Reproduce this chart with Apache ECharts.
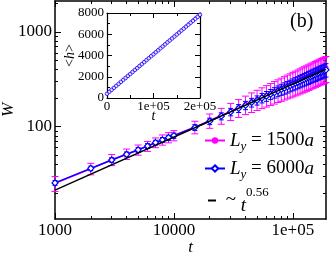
<!DOCTYPE html>
<html><head><meta charset="utf-8">
<script src="https://cdn.jsdelivr.net/npm/echarts@6/dist/echarts.min.js"></script>
<style>html,body{margin:0;padding:0;background:#fff}#c{width:332px;height:253px}</style>
</head><body><div id="c"></div>
<script>
// ---- main plot data: W(t) ----
const tMain = [1000,2000,3000,4000,5000,6000,7000,8000,9000,10000,15000,20000,25000,30000,35000,40000,45000,50000,55000,60000,65000,70000,75000,80000,85000,90000,95000,100000,105000,110000,115000,120000,125000,130000,135000,140000,145000,150000,155000,160000,165000,170000,175000,180000,185000,190000];
const w1500 = [25.2,36,44.8,51.5,57,62.3,68,72.8,77,80.8,99,116,131,146,159,172,184,195,206,216,226,236,246,255,264,273,281,290,298,306,314,322,330,337,345,352,360,367,374,381,388,395,401,408,414,421];
const e1500 = [4.5,5,6,6.5,7,7.5,8,9,9.5,10,15,20,25,30,34,38,43,47,51,55,59,63,66,70,73,77,80,84,87,90,93,96,99,101,104,107,109,112,114,116,118,121,123,125,127,129];
const w6000 = [25.5,36.3,44.5,51,56.8,62.5,67.8,72.4,76.5,80.5,98,114,129,143,156,168,180,190,201,210,220,229,238,247,255,263,271,279,287,294,302,309,316,323,330,337,344,350,356,363,369,375,381,387,393,398];
const e6000 = [1.5,2,2.5,3,3.3,3.7,4,4.4,4.8,5.2,7,9,11,13,15,17,19,21,23,25,27,29,31,33,35,37,38,40,42,43,45,46,48,49,51,52,53,55,56,57,58,60,61,62,63,64];
const fitT = [1000,190000];
const fitW = [21.4,404];
// ---- inset data: <h>(t) ----
const tInset = [0,5000,10000,15000,20000,25000,30000,35000,40000,45000,50000,55000,60000,65000,70000,75000,80000,85000,90000,95000,100000,105000,110000,115000,120000,125000,130000,135000,140000,145000,150000,155000,160000,165000,170000,175000,180000,185000,190000,195000,200000];
const h6000 = [400,590,770,960,1150,1330,1520,1710,1890,2080,2260,2450,2640,2820,3010,3190,3380,3570,3750,3940,4120,4310,4490,4680,4860,5050,5240,5420,5610,5790,5980,6160,6350,6530,6720,6900,7090,7270,7460,7640,7830];
const h1500 = [410,600,790,980,1170,1350,1540,1730,1920,2100,2290,2480,2670,2850,3040,3230,3420,3600,3790,3980,4170,4350,4540,4730,4920,5100,5290,5480,5670,5860,6040,6230,6420,6610,6800,6980,7170,7360,7550,7740,7920];
// ---- ticks ----
const xMajorTicks = [1000,10000,100000];
const xMajorLabels = ['1000','10000','1e+05'];
const xMinorTicks = [2000,3000,4000,5000,6000,7000,8000,9000,20000,30000,40000,50000,60000,70000,80000,90000];
const yMajorTicks = [100,1000];
const yMajorLabels = ['100','1000'];
const yMinorTicks = [20,30,40,50,60,70,80,90,200,300,400,500,600,700,800,900,2000];
const insetXTicks = [0,100000,200000];
const insetXLabels = ['0','1e+05','2e+05'];

const FONT = 'Liberation Serif';
function pick(ticks, labels, v){
  const i = ticks.findIndex(t => Math.abs(t - v) <= Math.abs(t) * 1e-6 + 1e-9);
  return i < 0 ? '' : labels[i];
}
function mainAxis(isX, pos, ticks, len, labels, extra){
  return Object.assign({
    type:'log', logBase:10, gridIndex:0, position:pos, nameMoveOverlap:false,
    min: isX ? 1000 : 10.6, max: isX ? 190000 : 2120,
    axisLine:{show:true, onZero:false, lineStyle:{color:'#000', width:1.5}},
    axisTick:{show:true, inside:true, length:len, customValues:ticks, lineStyle:{color:'#000', width:1}},
    minorTick:{show:false},
    axisLabel: labels ? {show:true, customValues:ticks, margin:3, color:'#000', fontFamily:FONT, fontSize:17,
      formatter: v => pick(ticks, labels, v)} : {show:false},
    splitLine:{show:false}
  }, extra || {});
}
function insetAxis(isX, pos, labels, extra){
  return Object.assign({
    type:'value', gridIndex:1, position:pos, nameMoveOverlap:false,
    min:0, max: isX ? 200000 : 8000, interval: isX ? 100000 : 2000,
    axisLine:{show:true, onZero:false, lineStyle:{color:'#000', width:1.2}},
    axisTick:{show:true, inside:true, length:5, lineStyle:{color:'#000', width:1}},
    minorTick:{show:true, splitNumber:2, length:3, lineStyle:{color:'#000', width:1}},
    axisLabel: labels ? {show:true, margin: isX ? 2 : 3, color:'#000', fontFamily:FONT, fontSize:13,
      formatter: isX ? (v => pick(insetXTicks, insetXLabels, v)) : (v => String(v))} : {show:false},
    splitLine:{show:false}
  }, extra || {});
}
function errSeries(tArr, wArr, eArr, color, cap, z){
  return {
    type:'custom', xAxisIndex:0, yAxisIndex:0, z:z, silent:true,
    data: tArr.map((t,i) => [t, wArr[i]-eArr[i], wArr[i]+eArr[i]]),
    renderItem: (params, api) => {
      const lo = api.coord([api.value(0), api.value(1)]);
      const hi = api.coord([api.value(0), api.value(2)]);
      const st = {stroke:color, lineWidth:1};
      return {type:'group', children:[
        {type:'line', shape:{x1:lo[0], y1:lo[1], x2:hi[0], y2:hi[1]}, style:st},
        {type:'line', shape:{x1:lo[0]-cap, y1:lo[1], x2:lo[0]+cap, y2:lo[1]}, style:st},
        {type:'line', shape:{x1:hi[0]-cap, y1:hi[1], x2:hi[0]+cap, y2:hi[1]}, style:st}
      ]};
    }
  };
}
const pair = (a, b) => a.map((v,i) => [v, b[i]]);

const richLeg = {
  L:{fontFamily:FONT, fontStyle:'italic', fontSize:19, color:'#000'},
  s:{fontFamily:FONT, fontStyle:'italic', fontSize:13, color:'#000', verticalAlign:'bottom', padding:[12,0,0,0]},
  n:{fontFamily:FONT, fontSize:19, color:'#000'},
  a:{fontFamily:FONT, fontStyle:'italic', fontSize:19, color:'#000'},
  t:{fontFamily:FONT, fontStyle:'italic', fontSize:19, color:'#000', verticalAlign:'bottom'},
  sup:{fontFamily:FONT, fontSize:13, color:'#000', verticalAlign:'top', padding:[0,0,16,0]}
};

const chart = echarts.init(document.getElementById('c'), null, {renderer:'canvas'});
chart.setOption({
  animation:false,
  backgroundColor:'#fff',
  grid:[
    {left:55, right:6, top:1, bottom:34, containLabel:false, outerBoundsMode:'none'},
    {left:107, right:132, top:13, bottom:155, containLabel:false, outerBoundsMode:'none'}
  ],
  xAxis:[
    mainAxis(true,'bottom',xMajorTicks,6,xMajorLabels,{name:'t', nameLocation:'middle', nameGap:20,
      nameTextStyle:{fontFamily:FONT, fontStyle:'italic', fontSize:17, color:'#000'}}),
    mainAxis(true,'bottom',xMinorTicks,3,null,{axisLine:{show:false}}),
    mainAxis(true,'top',xMajorTicks,6,null),
    mainAxis(true,'top',xMinorTicks,3,null,{axisLine:{show:false}}),
    insetAxis(true,'bottom',true,{name:'t', nameLocation:'middle', nameGap:11,
      nameTextStyle:{fontFamily:FONT, fontStyle:'italic', fontSize:14, color:'#000'}}),
    insetAxis(true,'top',false)
  ],
  yAxis:[
    mainAxis(false,'left',yMajorTicks,6,yMajorLabels,{name:'W', nameLocation:'middle', nameGap:38, nameRotate:90,
      nameTextStyle:{fontFamily:FONT, fontStyle:'italic', fontSize:17, color:'#000'}}),
    mainAxis(false,'left',yMinorTicks,3,null,{axisLine:{show:false}}),
    mainAxis(false,'right',yMajorTicks,6,null),
    mainAxis(false,'right',yMinorTicks,3,null,{axisLine:{show:false}}),
    insetAxis(false,'left',true,{name:'<{i|h}>', nameLocation:'middle', nameGap:30, nameRotate:90,
      nameTextStyle:{fontFamily:FONT, fontSize:14, color:'#000',
        rich:{i:{fontFamily:FONT, fontStyle:'italic', fontSize:14, color:'#000'}}}}),
    insetAxis(false,'right',false)
  ],
  legend:[
    {data:['L1500'], left:204, top:131, itemWidth:20, itemHeight:8, itemGap:0, padding:0,
      formatter:() => '{L|L}{s|y}{n| = 1500}{a|a}', textStyle:{fontFamily:FONT, fontSize:19, color:'#000', rich:richLeg}},
    {data:['L6000'], left:204, top:159, itemWidth:20, itemHeight:8, itemGap:0, padding:0,
      formatter:() => '{L|L}{s|y}{n| = 6000}{a|a}', textStyle:{fontFamily:FONT, fontSize:19, color:'#000', rich:richLeg}},
    {data:[{name:'fit', icon:'rect'}], left:208, top:186, itemWidth:8, itemHeight:2, itemGap:0, padding:0,
      formatter:() => '{n| ~ }{t|t}{sup|0.56}', textStyle:{fontFamily:FONT, fontSize:19, color:'#000', rich:richLeg}}
  ],
  graphic:[
    {type:'text', left:290, top:12, style:{text:'(b)', fontFamily:FONT, fontSize:20, fill:'#000'}}
  ],
  series:[
    errSeries(tMain, w1500, e1500, '#ff00ff', 3.5, 2),
    {name:'L1500', type:'line', xAxisIndex:0, yAxisIndex:0, data:pair(tMain, w1500), z:3,
      symbol:'circle', symbolSize:5, itemStyle:{color:'#ff00ff'}, lineStyle:{color:'#ff00ff', width:1.5}},
    errSeries(tMain, w6000, e6000, '#0000ff', 2.5, 4),
    {name:'L6000', type:'line', xAxisIndex:0, yAxisIndex:0, data:pair(tMain, w6000), z:5,
      symbol:'diamond', symbolSize:6, itemStyle:{color:'#ffffff', borderColor:'#0000ff', borderWidth:1.2},
      lineStyle:{color:'#0000ff', width:1.5}},
    {name:'fit', type:'line', xAxisIndex:0, yAxisIndex:0, data:pair(fitT, fitW), z:6,
      symbol:'none', itemStyle:{color:'#000'}, lineStyle:{color:'#000', width:1.5}},
    {name:'h1500', type:'line', xAxisIndex:4, yAxisIndex:4, data:pair(tInset, h1500), z:3,
      symbol:'circle', symbolSize:2.5, itemStyle:{color:'#ff00ff'}, lineStyle:{color:'#ff00ff', width:1}},
    {name:'h6000', type:'scatter', xAxisIndex:4, yAxisIndex:4, data:pair(tInset, h6000), z:4,
      symbol:'circle', symbolSize:3.6, itemStyle:{color:'#ffffff', borderColor:'#0000ff', borderWidth:1}}
  ]
});
</script></body></html>
